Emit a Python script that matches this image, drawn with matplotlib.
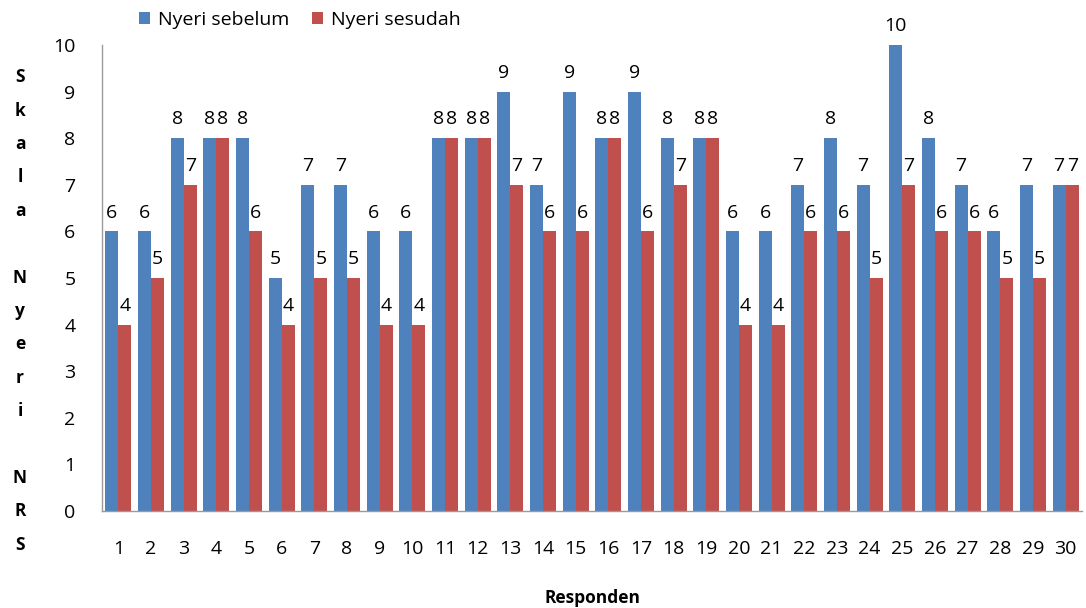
import matplotlib
matplotlib.use("Agg")
import matplotlib.pyplot as plt
import numpy as np

respondents = list(range(1, 31))
sebelum = [6, 6, 8, 8, 8, 5, 7, 7, 6, 6, 8, 8, 9, 7, 9, 8, 9, 8, 8, 6, 6, 7, 8, 7, 10, 8, 7, 6, 7, 7]
sesudah = [4, 5, 7, 8, 6, 4, 5, 5, 4, 4, 8, 8, 7, 6, 6, 8, 6, 7, 8, 4, 4, 6, 6, 5, 7, 6, 6, 5, 5, 7]
yticks = list(range(0, 11))

plt.rcParams['font.family'] = ['Open Sans', 'DejaVu Sans']

fig = plt.figure(figsize=(10.86, 6.08), dpi=100)
ax = fig.add_axes([102/1086, 1-511/608, (1082-102)/1086, (511-45)/608])

x = np.array(respondents)
w = 0.4
blue = '#4F81BD'
red = '#C0504D'
b1 = ax.bar(x - w/2, sebelum, w, color=blue, label='Nyeri sebelum')
b2 = ax.bar(x + w/2, sesudah, w, color=red, label='Nyeri sesudah')

for xi, v in zip(x - w/2, sebelum):
    ax.annotate(str(v), (xi, v), xytext=(0, 7), textcoords='offset points',
                ha='center', va='bottom', fontsize=14)
for xi, v in zip(x + w/2, sesudah):
    ax.annotate(str(v), (xi, v), xytext=(0, 7), textcoords='offset points',
                ha='center', va='bottom', fontsize=14)

ax.set_xlim(0.5, 30.5)
ax.set_ylim(0, 10)
ax.set_yticks(yticks)
ax.set_xticks(x)
ax.set_xticklabels([str(r) for r in respondents])
ax.tick_params(axis='both', length=0, labelsize=14)
ax.tick_params(axis='x', pad=21)
ax.tick_params(axis='y', pad=19)
for s in ['top', 'right']:
    ax.spines[s].set_visible(False)
for s in ['left', 'bottom']:
    ax.spines[s].set_color('#9A9A9A')
    ax.spines[s].set_linewidth(1.0)

ax.set_xlabel('Responden', fontsize=12.5, fontweight='bold', labelpad=22)

fig.text(20/1086, 1-311/608, 'S\nk\na\nl\na\n\nN\ny\ne\nr\ni\n\nN\nR\nS',
         ha='center', va='center', fontsize=12.5, fontweight='bold', linespacing=2.1)

leg = fig.legend(handles=[b1, b2], loc='center', bbox_to_anchor=(300/1086, 1-20/608),
                 ncol=2, frameon=False, fontsize=14, handlelength=0.55, handleheight=0.55,
                 handletextpad=0.4, columnspacing=1.2)

fig.savefig('out.png', dpi=100)
